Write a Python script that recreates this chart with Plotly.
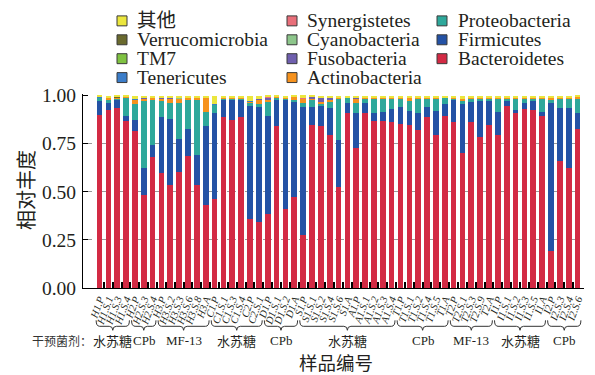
import plotly.graph_objects as go

samples = ["H1.P","H1.S.1","H1.S.3","H1.S.4","H2.P","H2.S.3","H2.S.4","H3.P","H3.S.2","H3.S.3","H3.S.6","H3.S.8","H3.A",
           "C1.P","C1.S.1","C1.S.3","C1.S.4","C2.P","C2.S.1","D1.P","D1.S.1","D1.S.2","D1.A",
           "S1.P","S1.S.1","S1.S.2","S1.S.4","S1.S.6","S1.A","A1.P","A1.S.1","A1.S.2","A1.S.3","A1.S.4",
           "T1.P","T1.S.1","T1.S.2","T1.S.4","T1.S.5","T1.A","T2.P","T2.S.1","T2.S.3","T2.S.9","T2.A",
           "I1.P","I1.S.1","I1.S.2","I1.S.3","I1.S.5","I1.A","I2.P","I2.S.3","I2.S.4","I2.S.6"]

group_names = ["水苏糖","CPb","MF-13","水苏糖","CPb","水苏糖","CPb","MF-13","水苏糖","CPb"]
group_sizes = [4,3,6,6,4,11,6,5,6,4]

bacteroidetes = [.898,.927,.937,.869,.818,.482,.681,.600,.537,.605,.687,.537,.429,.463,.889,.874,.891,.361,.341,.387,.843,.412,.472,.278,.847,.843,.797,.523,.908,.727,.911,.869,.869,.860,.852,.847,.823,.886,.797,.894,.865,.702,.860,.784,.848,.797,.945,.911,.928,.923,.894,.193,.661,.622,.826]
firmicutes = [.073,.036,.041,.024,.056,.143,.063,.291,.340,.167,.139,.153,.414,.445,.089,.106,.087,.584,.604,.507,.137,.568,.499,.664,.095,.102,.140,.247,.055,.184,.048,.042,.046,.068,.090,.073,.088,.056,.123,.060,.115,.255,.108,.187,.128,.118,.031,.014,.031,.053,.023,.766,.272,.311,.085]
proteobacteria = [.017,.017,.007,.095,.080,.346,.232,.080,.086,.191,.150,.290,.074,.043,.007,.005,.007,.020,.010,.077,.010,.005,.008,.021,.038,.015,.034,.213,.025,.052,.026,.074,.070,.057,.043,.050,.074,.043,.065,.034,.005,.017,.017,.014,.009,.070,.009,.060,.026,.009,.068,.016,.052,.052,.074]
actinobacteria = [.004,.008,.006,.005,.026,.014,.014,.016,.020,.022,.014,.008,.071,.004,.004,.004,.004,.005,.025,.004,.004,.006,.014,.022,.002,.004,.005,.005,.004,.022,.005,.005,.005,.005,.007,.018,.006,.006,.006,.004,.005,.010,.005,.005,.005,.005,.005,.005,.005,.005,.005,.013,.006,.006,.010]
fusobacteria = [0,0,0,0,0,.002,0,.003,.005,0,0,0,.002,0,0,0,.002,0,.002,.014,0,0,0,.002,.012,.028,.014,.002,0,.002,0,0,0,0,0,0,0,0,0,0,0,0,0,0,0,0,0,0,0,0,0,0,0,0,0]
cyanobacteria = [0,0,0,0,0,0,0,0,0,.003,0,0,0,0,0,0,0,0,0,0,0,0,0,0,0,0,0,0,0,0,0,0,0,0,0,0,0,0,0,0,0,0,0,0,0,0,0,0,0,0,0,0,0,0,0]
synergistetes = [0,0,0,0,0,0,0,0,0,0,0,0,0,0,0,0,0,0,0,.001,0,0,0,.001,0,0,0,0,0,0,0,0,0,0,0,0,0,0,0,0,0,0,0,0,0,0,0,0,0,0,0,0,0,0,0]
tenericutes = [.002,.002,0,.002,.002,0,.002,0,0,0,.002,.002,0,.003,.002,.002,0,.002,0,0,0,0,0,0,0,0,0,0,0,0,0,0,0,0,0,0,0,0,0,0,0,0,0,0,0,0,0,0,0,0,0,0,0,0,0]
tm7 = [0,0,0,0,0,0,0,0,0,0,0,0,0,0,0,0,0,0,0,0,0,0,0,0,0,0,0,0,0,0,0,0,0,0,0,0,0,0,0,0,0,0,0,0,0,0,0,0,0,0,0,0,0,0,0]
verrucomicrobia = [0,0,.002,0,0,0,0,0,0,0,0,0,0,0,0,0,0,0,0,0,0,0,0,0,0,0,0,0,0,0,0,0,0,0,0,0,0,0,0,0,0,0,0,0,0,0,0,0,0,0,0,0,0,0,0]
others = [.006,.010,.007,.005,.018,.013,.008,.010,.012,.012,.008,.010,.010,.042,.009,.009,.009,.028,.018,.011,.006,.009,.007,.013,.006,.008,.010,.010,.008,.013,.010,.010,.010,.010,.008,.012,.009,.009,.009,.008,.010,.016,.010,.010,.010,.010,.010,.010,.010,.010,.010,.012,.009,.009,.005]

# (name, values, colour, legend column) — stacked bottom to top
series = [
    ("Bacteroidetes", bacteroidetes, "#d32a44", 2),
    ("Firmicutes", firmicutes, "#2452a5", 2),
    ("Proteobacteria", proteobacteria, "#2ea89b", 2),
    ("Actinobacteria", actinobacteria, "#f6921e", 1),
    ("Fusobacteria", fusobacteria, "#6f5fae", 1),
    ("Cyanobacteria", cyanobacteria, "#8dc68b", 1),
    ("Synergistetes", synergistetes, "#e96f7a", 1),
    ("Tenericutes", tenericutes, "#3b7dc9", 0),
    ("TM7", tm7, "#7fc241", 0),
    ("Verrucomicrobia", verrucomicrobia, "#6a6a2e", 0),
    ("其他", others, "#ebe63d", 0),
]

SERIF = "Liberation Serif, Noto Sans CJK SC"
CJK = "Noto Sans CJK SC"
TXT = "#231f20"

W, H = 595, 375
ML, MR, MT, MB = 83, 11, 93.5, 86.5
PW, PH = W - ML - MR, H - MT - MB
def py(Y):  # pixel row -> paper y
    return (H - MB - Y) / PH
def px(X):  # pixel column -> paper x
    return (X - ML) / PW

x = list(range(len(samples)))
fig = go.Figure()
for name, vals, col, _ in series:
    fig.add_trace(go.Bar(x=x, y=vals, name=name, marker=dict(color=col, line=dict(width=0)),
                         showlegend=False))

fig.update_layout(
    width=W, height=H, margin=dict(l=ML, r=MR, t=MT, b=MB, autoexpand=False),
    barmode="stack", bargap=0.36,
    plot_bgcolor="white", paper_bgcolor="white",
    font=dict(family=SERIF, color=TXT),
    xaxis=dict(range=[-1.864, len(samples) - 1 + 0.73], tickmode="array", tickvals=x, ticktext=samples,
               tickangle=-70, tickfont=dict(family=SERIF, size=10.5, style="italic", color=TXT),
               ticks="", showline=True, linecolor="black", linewidth=1, showgrid=False, zeroline=False,
               automargin=False,
               minor=dict(tickmode="array", tickvals=[i + 0.5 for i in x[:-1]], ticks="inside",
                          ticklen=6, tickcolor="black", tickwidth=1.5, showgrid=False)),
    yaxis=dict(range=[0, 1.008], tickmode="array", tickvals=[0, .25, .5, .75, 1.0],
               ticktext=["0.00", "0.25", "0.50", "0.75", "1.00"],
               tickfont=dict(family=SERIF, size=19.5, color=TXT), ticks="inside", ticklen=5,
               tickcolor="black", showline=True, linecolor="black", linewidth=1, showgrid=False,
               zeroline=False, automargin=False, ticklabelstandoff=2,
               minor=dict(tickmode="array", tickvals=[.25, .5, .75], showgrid=True,
                          gridcolor="#9a9a9a", griddash="dash", gridwidth=1, ticks="")),
)

shapes = []
annotations = []

# legend (three columns, top entry = top of stack)
col_marker_x = [122, 292, 442]
col_text_x = [135, 305, 456]
row_y = [20, 39, 58, 77]
for c in range(3):
    entries = [s for s in series if s[3] == c][::-1]
    for r, (name, _, colr, _) in enumerate(entries):
        yc = row_y[r]
        mx = col_marker_x[c]
        shapes.append(dict(type="rect", xref="paper", yref="paper",
                           x0=px(mx - 5), x1=px(mx + 5), y0=py(yc + 5), y1=py(yc - 5),
                           fillcolor=colr, line=dict(color="#3a3a3a", width=1)))
        annotations.append(dict(x=px(col_text_x[c]), y=py(yc), xref="paper", yref="paper", text=name,
                                showarrow=False, xanchor="left", yanchor="middle",
                                font=dict(family=SERIF, size=19.5, color=TXT)))

# group brackets and labels
start = 0
y_tip, y_line, y_mid = py(321), py(327), py(331)
for gname, n in zip(group_names, group_sizes):
    x0 = start - 0.38
    x1 = start + n - 1 + 0.38
    xm = (x0 + x1) / 2
    r = 0.4
    path = (f"M{x0},{y_tip} Q{x0},{y_line} {x0+r},{y_line} L{xm-r},{y_line} "
            f"Q{xm},{y_line} {xm},{y_mid} Q{xm},{y_line} {xm+r},{y_line} "
            f"L{x1-r},{y_line} Q{x1},{y_line} {x1},{y_tip}")
    shapes.append(dict(type="path", path=path, xref="x", yref="paper",
                       line=dict(color="#333333", width=1)))
    fam = CJK if any(ord(ch) > 127 for ch in gname) else SERIF
    annotations.append(dict(x=xm, y=py(341), xref="x", yref="paper", text=gname, showarrow=False,
                            font=dict(family=fam, size=13, color=TXT), xanchor="center", yanchor="middle"))
    start += n

annotations.append(dict(x=px(94), y=py(341), xref="paper", yref="paper", text="干预菌剂：",
                        showarrow=False, font=dict(family=CJK, size=12, color="#333333"),
                        xanchor="right", yanchor="middle"))
annotations.append(dict(x=px(336), y=py(363), xref="paper", yref="paper", text="样品编号", showarrow=False,
                        font=dict(family=CJK, size=18.5, color=TXT), xanchor="center", yanchor="middle"))
annotations.append(dict(x=px(25), y=py(190), xref="paper", yref="paper", text="相对丰度",
                        showarrow=False, textangle=-90, font=dict(family=CJK, size=20, color=TXT),
                        xanchor="center", yanchor="middle"))
fig.update_layout(shapes=shapes, annotations=annotations)

fig.write_html("out.html")
